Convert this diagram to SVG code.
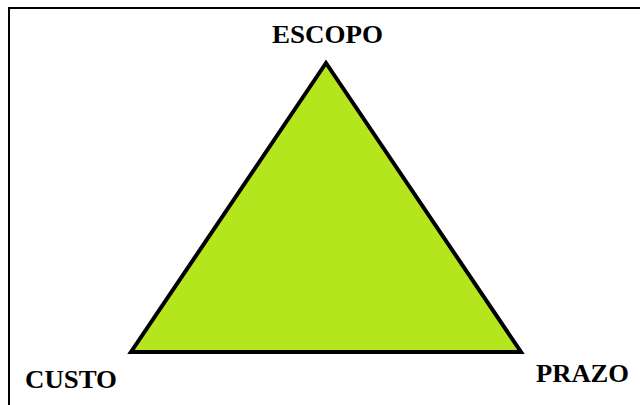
<svg xmlns="http://www.w3.org/2000/svg" width="640" height="405" viewBox="0 0 640 405">
<style>
.lbl{font-family:"Liberation Serif","Times New Roman",serif;font-weight:bold;font-size:26px;fill:#000}
</style>
<rect width="640" height="405" fill="#fff"/>
<g id="frame">
<path d="M9 405 V8 H640" fill="none" stroke="#000" stroke-width="2"/>
</g>
<g id="triangle">
<polygon points="326,63 131,352 521,352" fill="#b5e61d" stroke="#000" stroke-width="4" stroke-linejoin="miter"/>
</g>
<g id="escopo"><text class="lbl" x="272" y="43" textLength="111" lengthAdjust="spacingAndGlyphs">ESCOPO</text></g>
<g id="custo"><text class="lbl" x="25" y="388" textLength="92" lengthAdjust="spacingAndGlyphs">CUSTO</text></g>
<g id="prazo"><text class="lbl" x="536" y="382" textLength="93" lengthAdjust="spacingAndGlyphs">PRAZO</text></g>
</svg>
